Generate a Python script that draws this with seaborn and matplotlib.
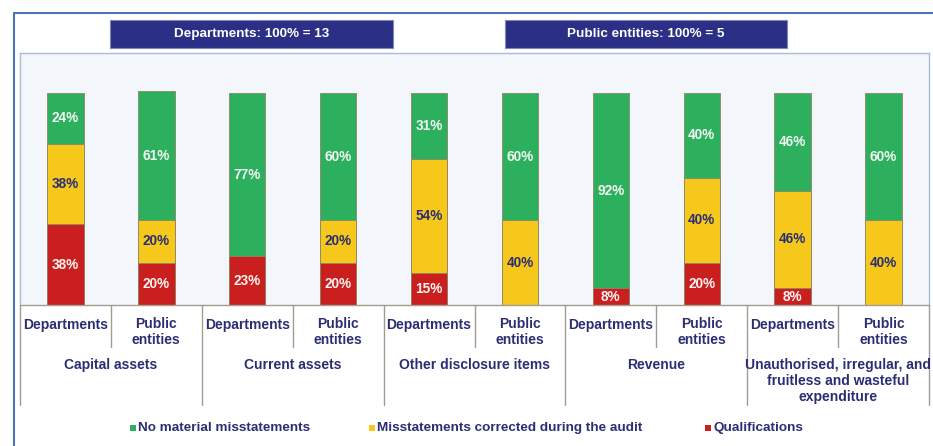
import matplotlib
matplotlib.use("Agg")
import matplotlib.pyplot as plt
from matplotlib.patches import Rectangle
from matplotlib.lines import Line2D
import matplotlib.transforms as mtransforms
import numpy as np
import pandas as pd
import seaborn as sns

# ---- data -------------------------------------------------------------
groups = ["Capital assets", "Current assets", "Other disclosure items",
          "Revenue", "Unauthorised, irregular, and\nfruitless and wasteful\nexpenditure"]
entity_types = ["Departments", "Public\nentities"]
qualifications = [38, 20, 23, 20, 15, 0, 8, 20, 8, 0]
corrected = [38, 20, 0, 20, 54, 40, 0, 40, 46, 40]
no_misstatements = [24, 61, 77, 60, 31, 60, 92, 40, 46, 60]
legend_labels = ["No material misstatements",
                 "Misstatements corrected during the audit",
                 "Qualifications"]
header_labels = ["Departments: 100% = 13", "Public entities: 100% = 5"]

# ---- styling ----------------------------------------------------------
GREEN = "#2cb05e"
YELLOW = "#f6c81c"
RED = "#c9201f"
NAVY = "#2b2f72"
BOX = "#2c2f86"
PANEL = "#f3f6fa"
EDGE = "#8f8468"

sns.set_style("white")
plt.rcParams["font.family"] = ["Liberation Sans", "DejaVu Sans"]
plt.rcParams["font.weight"] = "bold"

rows = []
for gi, g in enumerate(groups):
    for ti, t in enumerate(entity_types):
        rows.append({"key": f"{gi}-{ti}", "group": g, "type": t})
df = pd.DataFrame(rows)
df["red"] = qualifications
df["yellow"] = corrected
df["green"] = no_misstatements
df["cum_red"] = df["red"]
df["cum_yellow"] = df["red"] + df["yellow"]
df["cum_green"] = df["cum_yellow"] + df["green"]

fig = plt.figure(figsize=(9.33, 4.46), dpi=100)
ax = fig.add_axes([20 / 933, 1 - 305 / 446, 909 / 933, 252 / 446])
ax.set_facecolor(PANEL)

# stacked bars: draw cumulative totals back to front
for col, color in [("cum_green", GREEN), ("cum_yellow", YELLOW), ("cum_red", RED)]:
    sns.barplot(data=df, x="key", y=col, color=color, width=0.4, ax=ax,
                saturation=1, edgecolor=EDGE, linewidth=0.6, errorbar=None)

ax.set_xlim(-0.5, 9.5)
ax.set_ylim(0, 118.9)
ax.set_xlabel("")
ax.set_ylabel("")
ax.set_yticks([])

# segment value labels
for i, r in df.iterrows():
    base = 0
    for seg, tc in [("red", "#fbf3f0"), ("yellow", NAVY), ("green", "#f1f7f1")]:
        v = r[seg]
        if v > 0:
            ax.text(i, base + v / 2, f"{v}%", ha="center", va="center",
                    fontsize=9.8, fontweight="bold", color=tc)
        base += v

# spines
for s in ["top", "left", "right"]:
    ax.spines[s].set_color("#a9bdd9")
    ax.spines[s].set_linewidth(1.0)
ax.spines["bottom"].set_color("#a39c90")
ax.spines["bottom"].set_linewidth(1.0)

# category tick labels
ax.set_xticks(range(len(df)))
ax.set_xticklabels(df["type"], fontsize=10, fontweight="bold", color=NAVY,
                   linespacing=1.15)
ax.tick_params(axis="x", length=0, pad=9)

# separators below the axis
trans = mtransforms.blended_transform_factory(ax.transData, ax.transAxes)
for gi in range(len(groups) + 1):
    x = 2 * gi - 0.5
    ax.add_line(Line2D([x, x], [0, -0.397], transform=trans, color="#a39c90",
                       lw=1.0, clip_on=False))
for gi in range(len(groups)):
    x = 2 * gi + 0.5
    ax.add_line(Line2D([x, x], [0, -0.167], transform=trans, color="#a39c90",
                       lw=1.0, clip_on=False))
    ax.text(x, -0.212, groups[gi], transform=trans, ha="center", va="top",
            fontsize=10, fontweight="bold", color=NAVY, linespacing=1.15)

# outer frame
W, H = 933, 446
fig.add_artist(Line2D([14 / W, 14 / W], [0, 1 - 13 / H], color="#4a74b3", lw=1.5))
fig.add_artist(Line2D([14 / W, 1], [1 - 13 / H, 1 - 13 / H], color="#4a74b3", lw=1.5))

# header boxes
for (x0, x1), label in zip([(110, 393), (505, 787)], header_labels):
    fig.add_artist(Rectangle((x0 / W, 1 - 48 / H), (x1 - x0) / W, 28 / H,
                             facecolor=BOX, edgecolor="#7f88b8", lw=0.8))
    fig.text((x0 + x1) / 2 / W, 1 - 34 / H, label, ha="center", va="center",
             fontsize=9.7, fontweight="bold", color="white")

# legend
for (xs, color), label in zip([(130, GREEN), (369, YELLOW), (705, RED)], legend_labels):
    fig.add_artist(Rectangle((xs / W, 1 - 431 / H), 6 / W, 6 / H,
                             facecolor=color, edgecolor="none"))
    fig.text((xs + 8) / W, 1 - 428 / H, label, ha="left", va="center",
             fontsize=9.7, fontweight="bold", color=NAVY)

fig.savefig("out.png", dpi=100, facecolor="white")
